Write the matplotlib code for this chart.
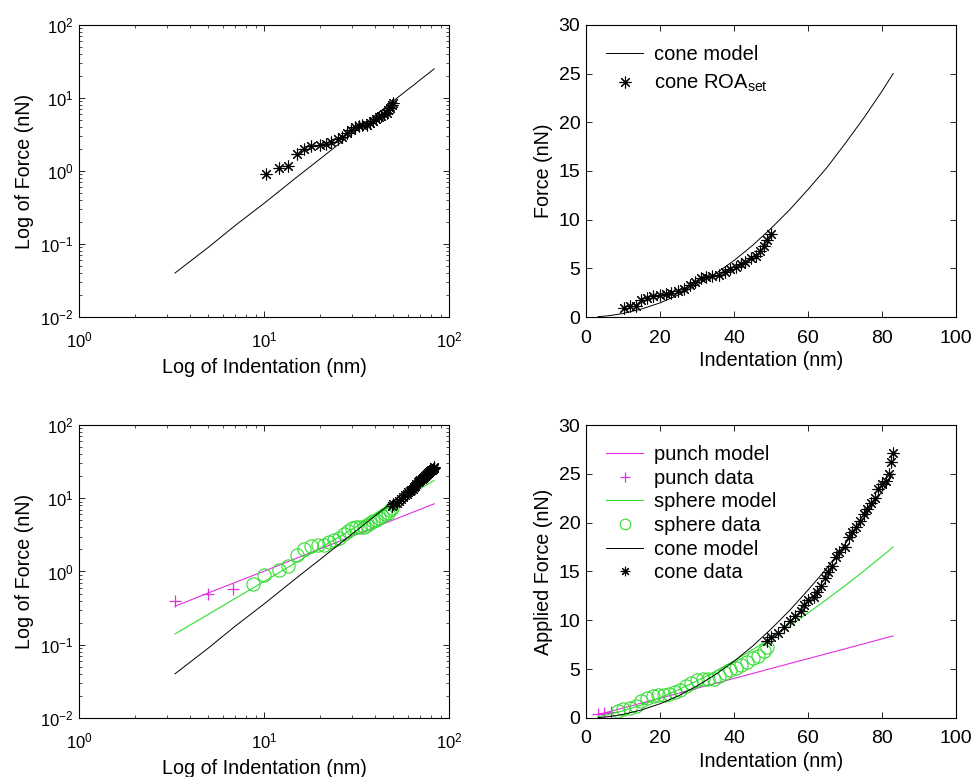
import matplotlib
matplotlib.use('Agg')
import matplotlib.pyplot as plt

plt.rcParams['font.family'] = ['Liberation Sans', 'DejaVu Sans']
plt.rcParams['mathtext.fontset'] = 'custom'
plt.rcParams['mathtext.rm'] = 'Liberation Sans'
plt.rcParams['mathtext.it'] = 'Liberation Sans'
plt.rcParams['mathtext.default'] = 'regular'

# model curves
model_x = [3.3, 5, 7, 10, 15, 20, 25, 30, 35, 40, 45, 50, 55, 60, 65, 70, 75, 80, 83]
cone_model = [0.04, 0.09, 0.18, 0.36, 0.82, 1.45, 2.27, 3.27, 4.45, 5.8, 7.35,
              9.1, 11.0, 13.1, 15.3, 17.8, 20.4, 23.2, 25.0]
sphere_model = [0.14, 0.26, 0.43, 0.73, 1.34, 2.07, 2.89, 3.8, 4.79, 5.85, 6.99,
                8.18, 9.44, 10.75, 12.13, 13.55, 15.03, 16.56, 17.5]
punch_model = [0.335, 0.51, 0.71, 1.01, 1.52, 2.02, 2.53, 3.04, 3.54, 4.05, 4.55,
               5.06, 5.57, 6.07, 6.58, 7.08, 7.59, 8.1, 8.4]

# cone ROA set (top row)
roa_x = [10.3, 12, 13.5, 15, 16.5, 18, 20, 21.5, 23, 25, 26.5, 28, 29.5, 31, 32.5,
         34, 36, 37.5, 39, 40.5, 42, 43, 44.5, 46, 47, 48, 49, 50]
roa_y = [0.9, 1.08, 1.18, 1.7, 2.0, 2.2, 2.3, 2.35, 2.5, 2.7, 2.9, 3.3, 3.6, 4.0, 4.1,
         4.2, 4.3, 4.6, 4.9, 5.1, 5.4, 5.7, 6.1, 6.3, 6.8, 7.3, 7.9, 8.5]

# bottom row data
punch_x = [3.3, 5, 6.8]
punch_y = [0.4, 0.5, 0.58]
sphere_x = [8.7, 10, 12, 13.5, 15, 16.5, 18, 19.5, 21, 22.5, 24, 25.5, 27, 28.5, 30,
            31.5, 33, 34.5, 36, 37.5, 39, 40.5, 42, 43.5, 45, 46.5, 48, 49]
sphere_y = [0.68, 0.9, 1.05, 1.2, 1.7, 2.0, 2.2, 2.3, 2.3, 2.5, 2.7, 2.9, 3.3, 3.6, 3.9,
            4.0, 4.0, 4.0, 4.3, 4.6, 4.9, 5.1, 5.4, 5.7, 6.1, 6.3, 6.9, 7.3]
cone_x = [49, 50, 52, 53.5, 55, 56.5, 58, 59, 60, 61.5, 62.5, 63.5, 64.5, 65.5, 66.5,
          67.5, 68.5, 70, 71, 72, 73, 74, 75, 76, 77, 78, 79, 80, 81, 82, 82.5, 83]
cone_y = [7.9, 8.3, 8.7, 9.3, 9.9, 10.4, 11.0, 11.6, 12.1, 12.4, 12.9, 13.5, 14.3, 14.9,
          15.6, 16.5, 17.0, 17.5, 18.5, 19.0, 19.6, 20.2, 20.9, 21.4, 22.0, 22.5, 23.4,
          24.0, 24.3, 25.0, 26.2, 27.1]

ast = (8, 2, 0)
mag = '#e030e0'
grn = '#30dd30'
ms_ast, ms_circ, ms_plus = 8.5, 9.5, 9

fig = plt.figure(figsize=(9.74, 7.77), dpi=100)
ax1 = fig.add_axes([0.0811, 0.592, 0.380, 0.376])
ax2 = fig.add_axes([0.6016, 0.592, 0.380, 0.376])
ax3 = fig.add_axes([0.0811, 0.076, 0.380, 0.377])
ax4 = fig.add_axes([0.6016, 0.076, 0.380, 0.377])

for ax in (ax1, ax2, ax3, ax4):
    ax.tick_params(which='both', direction='in', top=True, right=True)
    ax.tick_params(which='major', length=4, width=0.6)
    ax.tick_params(which='minor', length=2, width=0.5)
    for s in ax.spines.values():
        s.set_linewidth(0.8)

for ax in (ax1, ax3):
    ax.tick_params(axis='x', which='major', labelsize=12, pad=10)
    ax.tick_params(axis='y', which='major', labelsize=12, pad=4)
for ax in (ax2, ax4):
    ax.tick_params(axis='x', which='major', labelsize=14, pad=9)
    ax.tick_params(axis='y', which='major', labelsize=14, pad=4)

lab = 14.2
leg = dict(loc='upper left', frameon=False, fontsize=14.5, handlelength=1.85,
           handletextpad=0.55, borderaxespad=0.6)

# top left
ax1.loglog(model_x, cone_model, color='k', lw=0.7)
ax1.loglog(roa_x, roa_y, linestyle='none', marker=ast, ms=ms_ast, mec='k', mew=0.8)
ax1.set_xlim(1, 100)
ax1.set_ylim(0.01, 100)
ax1.set_xlabel('Log of Indentation (nm)', fontsize=lab, labelpad=5)
ax1.set_ylabel('Log of Force (nN)', fontsize=lab)

# top right
ax2.plot(model_x, cone_model, color='k', lw=0.7, label='cone model')
ax2.plot(roa_x, roa_y, linestyle='none', marker=ast, ms=ms_ast, mec='k', mew=0.8,
         label='cone ROA$_{set}$')
ax2.set_xlim(0, 100)
ax2.set_ylim(0, 30)
ax2.set_xlabel('Indentation (nm)', fontsize=lab, labelpad=3)
ax2.set_ylabel('Force (nN)', fontsize=lab)
ax2.legend(labelspacing=0.45, **leg)

# bottom left
ax3.loglog(model_x, punch_model, color=mag, lw=0.8)
ax3.loglog(punch_x, punch_y, linestyle='none', marker='+', ms=ms_plus, mec=mag, mew=0.9)
ax3.loglog(model_x, sphere_model, color=grn, lw=0.8)
ax3.loglog(sphere_x, sphere_y, linestyle='none', marker='o', ms=ms_circ, mfc='none',
           mec=grn, mew=0.8)
ax3.loglog(model_x, cone_model, color='k', lw=0.7)
ax3.loglog(cone_x, cone_y, linestyle='none', marker=ast, ms=ms_ast, mec='k', mew=0.8)
ax3.set_xlim(1, 100)
ax3.set_ylim(0.01, 100)
ax3.set_xlabel('Log of Indentation (nm)', fontsize=lab, labelpad=5)
ax3.set_ylabel('Log of Force (nN)', fontsize=lab)

# bottom right
ax4.plot(model_x, punch_model, color=mag, lw=0.8, label='punch model')
ax4.plot(punch_x, punch_y, linestyle='none', marker='+', ms=ms_plus, mec=mag, mew=0.9,
         label='punch data')
ax4.plot(model_x, sphere_model, color=grn, lw=0.8, label='sphere model')
ax4.plot(sphere_x, sphere_y, linestyle='none', marker='o', ms=ms_circ, mfc='none', mec=grn,
         mew=0.8, label='sphere data')
ax4.plot(model_x, cone_model, color='k', lw=0.7, label='cone model')
ax4.plot(cone_x, cone_y, linestyle='none', marker=ast, ms=ms_ast, mec='k', mew=0.8,
         label='cone data')
ax4.set_xlim(0, 100)
ax4.set_ylim(0, 30)
ax4.set_xlabel('Indentation (nm)', fontsize=lab, labelpad=3)
ax4.set_ylabel('Applied Force (nN)', fontsize=lab)
ax4.legend(labelspacing=0.23, markerscale=0.8, **leg)

fig.savefig('out.png', dpi=100)
